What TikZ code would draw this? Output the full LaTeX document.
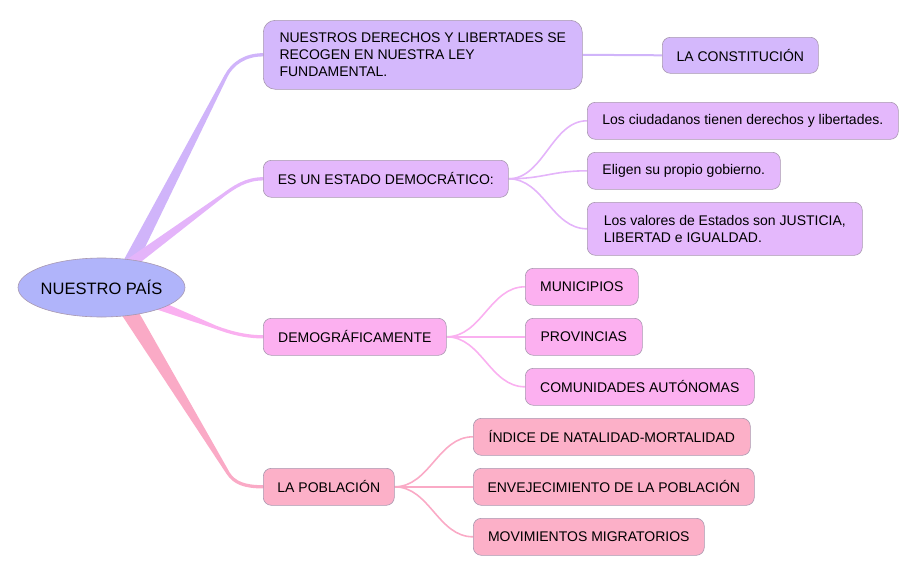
\documentclass[tikz,border=0pt]{standalone}
\usepackage{fontspec}
\setmainfont{Liberation Sans}
\usetikzlibrary{shapes.geometric,calc,backgrounds}
\definecolor{cCenter}{HTML}{B0B4FA}
\definecolor{cA}{HTML}{D4B8FC}
\definecolor{cB}{HTML}{E4B8FC}
\definecolor{cC}{HTML}{FCB0F0}
\definecolor{cD}{HTML}{FCB0C8}
\definecolor{lA}{HTML}{D0B4FA}
\definecolor{lB}{HTML}{E4B4FA}
\definecolor{lC}{HTML}{FAB0F0}
\definecolor{lD}{HTML}{FAAAC6}
\definecolor{cBorder}{HTML}{A898B0}
\begin{document}
\begin{tikzpicture}[x=1pt,y=-1pt,
  box/.style={draw=cBorder, line width=0.6pt, rounded corners=8pt, inner sep=0pt,
    anchor=north west, minimum height=37pt, font=\fontsize{14}{17}\selectfont, align=left},
  thin/.style={line width=1.6pt},
  taper/.style={line width=3.3pt}]
\useasboundingbox (0,0) rectangle (919,576);
% named end points of the main branches
\coordinate (a1) at (117,288); \coordinate (k1) at (226,76);
\coordinate (a2) at (112,277); \coordinate (k2) at (222,196);
\coordinate (a3) at (150,302); \coordinate (k3) at (215,327);
\coordinate (a4) at (122,300); \coordinate (k4) at (228,473);
% nodes
\node[box, fill=cA, minimum width=319pt, minimum height=69pt, rounded corners=12pt] (n1) at (263,20)
  {NUESTROS DERECHOS Y LIBERTADES SE\\RECOGEN EN NUESTRA LEY\\FUNDAMENTAL.};
\node[box, fill=cA, minimum width=156pt, minimum height=36pt] (con) at (662,37) {LA CONSTITUCIÓN};
\node[box, fill=cB, minimum width=245pt] (n2) at (263,160) {ES UN ESTADO DEMOCRÁTICO:};
\node[box, fill=cB, minimum width=311pt] (c21) at (587,102) {Los ciudadanos tienen derechos y libertades.};
\node[box, fill=cB, minimum width=193pt] (c22) at (587,152) {Eligen su propio gobierno.};
\node[box, fill=cB, minimum width=275pt, minimum height=53pt] (c23) at (587,202)
  {Los valores de Estados son JUSTICIA,\\LIBERTAD e IGUALDAD.};
\node[box, fill=cC, minimum width=183pt] (n3) at (263,318) {DEMOGRÁFICAMENTE};
\node[box, fill=cC, minimum width=113pt] (c31) at (525,268) {MUNICIPIOS};
\node[box, fill=cC, minimum width=117pt] (c32) at (525,318) {PROVINCIAS};
\node[box, fill=cC, minimum width=229pt] (c33) at (525,368) {COMUNIDADES AUTÓNOMAS};
\node[box, fill=cD, minimum width=131pt] (n4) at (263,468) {LA POBLACIÓN};
\node[box, fill=cD, minimum width=277pt] (c41) at (473,418) {ÍNDICE DE NATALIDAD-MORTALIDAD};
\node[box, fill=cD, minimum width=281pt] (c42) at (473,468) {ENVEJECIMIENTO DE LA POBLACIÓN};
\node[box, fill=cD, minimum width=231pt] (c43) at (473,518) {MOVIMIENTOS MIGRATORIOS};
% center
\node[ellipse, draw=cBorder, line width=0.6pt, fill=cCenter, minimum width=167pt, minimum height=59pt,
  inner xsep=-10pt, inner ysep=0pt,
  font=\fontsize{16.5}{19}\selectfont] (c) at (101.5,287.5) {NUESTRO PAÍS};
\begin{scope}[on background layer]
% main branches
\foreach \i/\c/\w in {1/lA/7.5pt,2/lB/6pt,3/lC/5pt,4/lD/8.5pt}{
  \fill[\c] ($(a\i)!\w!90:(k\i)$) -- ($(k\i)!1.7pt!-90:(a\i)$) -- ($(k\i)!1.7pt!90:(a\i)$) -- ($(a\i)!\w!-90:(k\i)$) -- cycle;
}
\draw[lA, taper, line cap=round] (k1) .. controls ($(k1)+(6.4,-12.4)$) and ($(n1.west)+(-18,0)$) .. (n1.west);
\draw[lB, taper, line cap=round] (k2) .. controls ($(k2)+(12,-8.9)$) and ($(n2.west)+(-17,0)$) .. (n2.west);
\draw[lC, taper, line cap=round] (k3) .. controls ($(k3)+(14,5.3)$) and ($(n3.west)+(-18,0)$) .. (n3.west);
\draw[lD, taper, line cap=round] (k4) .. controls ($(k4)+(6.4,10.2)$) and ($(n4.west)+(-18,0)$) .. (n4.west);
% child connectors
\draw[lA, line width=2pt] (n1.east) -- (con.west);
\foreach \t in {c21,c22,c23}{
  \draw[lB, thin] (n2.east) .. controls ($(n2.east)+(35,0)$) and ($(\t.west)+(-35,0)$) .. (\t.west);}
\foreach \t in {c31,c32,c33}{
  \draw[lC, thin] (n3.east) .. controls ($(n3.east)+(35,0)$) and ($(\t.west)+(-35,0)$) .. (\t.west);}
\foreach \t in {c41,c42,c43}{
  \draw[lD, thin] (n4.east) .. controls ($(n4.east)+(35,0)$) and ($(\t.west)+(-35,0)$) .. (\t.west);}
\end{scope}
\end{tikzpicture}
\end{document}
